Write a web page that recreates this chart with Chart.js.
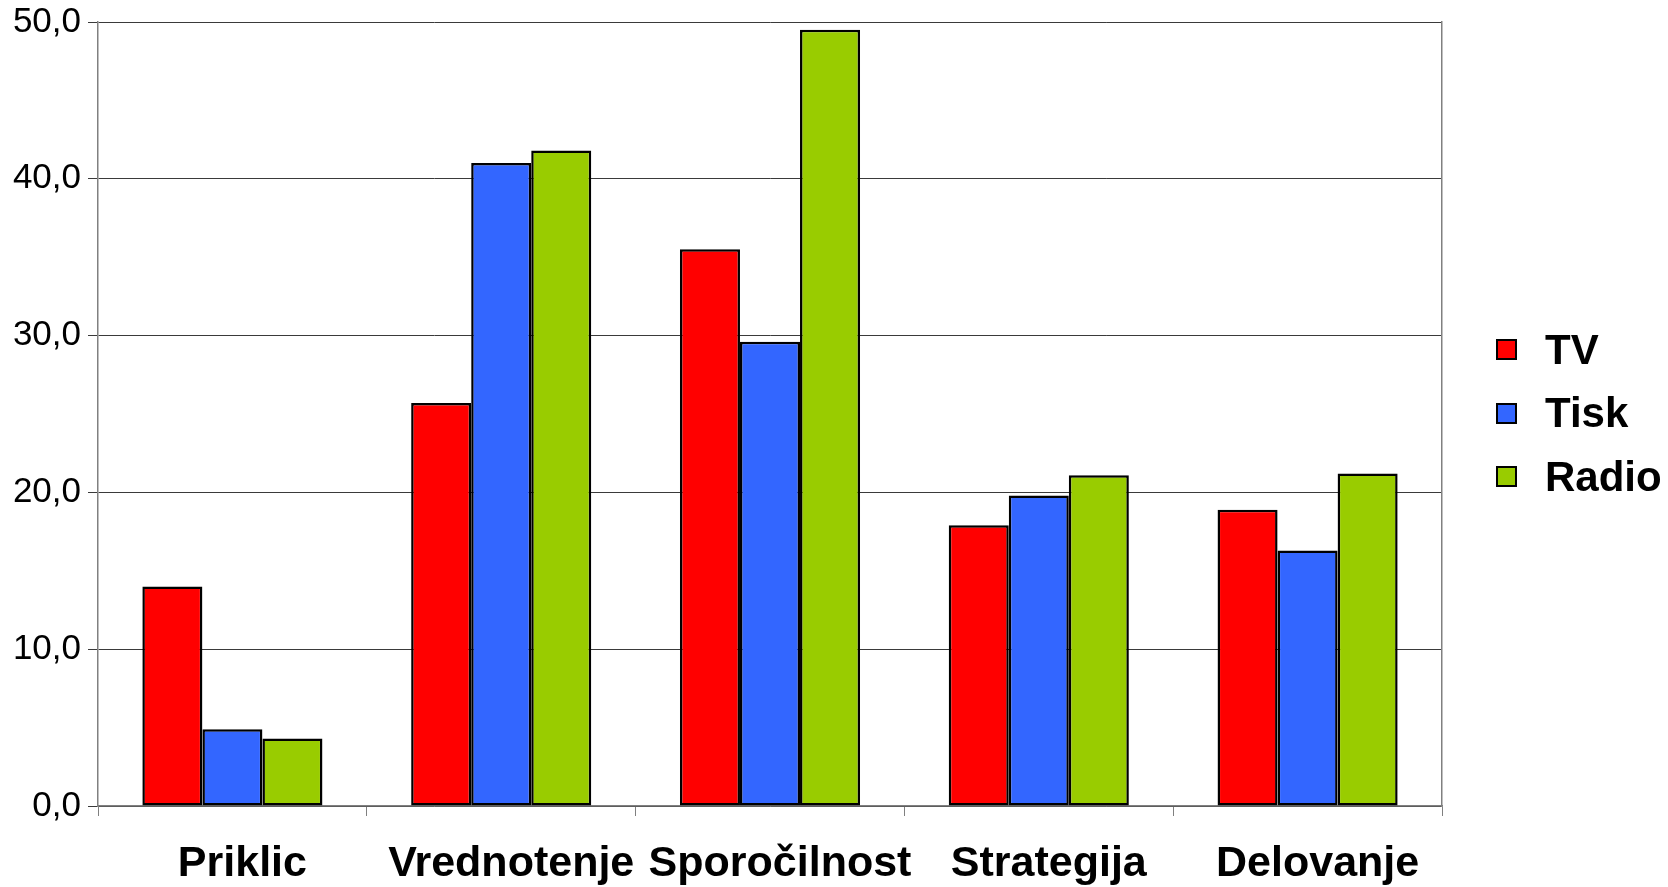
<!DOCTYPE html>
<html>
<head>
<meta charset="utf-8">
<script src="https://cdn.jsdelivr.net/npm/chart.js@4"></script>
<style>
  html, body { margin: 0; padding: 0; background: #fff; }
  #wrap { position: relative; width: 1668px; height: 887px; }
  #chart { position: absolute; left: 0; top: 0; }
  #legend { position: absolute; left: 1496px; top: 318px; font-family: "Liberation Sans", Arial, sans-serif; font-weight: bold; font-size: 42px; color: #000; }
  .item { display: flex; align-items: center; height: 63.5px; }
  .box { width: 17px; height: 17px; border: 2px solid #000; margin-right: 28px; }
</style>
</head>
<body>
<div id="wrap">
  <canvas id="chart" width="1668" height="887"></canvas>
  <div id="legend"></div>
</div>
<script>
// Categories and series values
const categories = ['Priklic', 'Vrednotenje', 'Sporočilnost', 'Strategija', 'Delovanje'];
const seriesNames = ['TV', 'Tisk', 'Radio'];
const tvValues = [14.0, 25.7, 35.5, 17.9, 18.9];
const tiskValues = [4.9, 41.0, 29.6, 19.8, 16.3];
const radioValues = [4.3, 41.8, 49.5, 21.1, 21.2];
const seriesColors = ['#ff0000', '#3366ff', '#99cc00'];
const yTickLabels = ['0,0', '10,0', '20,0', '30,0', '40,0', '50,0'];

const seriesValues = [tvValues, tiskValues, radioValues];

const datasets = seriesNames.map((name, i) => ({
  label: name,
  data: seriesValues[i],
  backgroundColor: seriesColors[i],
  borderColor: '#000',
  borderWidth: 2.5,
  borderSkipped: false,
  categoryPercentage: 0.67,
  barPercentage: 1.0
}));

new Chart(document.getElementById('chart'), {
  type: 'bar',
  data: { labels: categories, datasets },
  options: {
    responsive: false,
    animation: false,
    layout: { padding: { top: 22, right: 226, bottom: 0, left: 0 } },
    plugins: { legend: { display: false }, tooltip: { enabled: false } },
    scales: {
      x: {
        afterFit: (s) => { s.height = 81; s.paddingLeft = 0; s.paddingRight = 0; },
        grid: { drawOnChartArea: false, drawTicks: true, tickLength: 10, color: '#808080', offset: true },
        border: { display: true, color: '#808080', width: 1.5 },
        ticks: {
          padding: 22,
          labelOffset: 10,
          color: '#000',
          maxRotation: 0,
          autoSkip: false,
          font: { family: '"Liberation Sans", Arial, sans-serif', size: 43, weight: 'bold' }
        }
      },
      y: {
        min: 0,
        max: 50,
        afterFit: (s) => { s.width = 98; s.paddingTop = 0; s.paddingBottom = 0; },
        grid: { color: '#3a3a3a', lineWidth: 1, drawTicks: true, tickLength: 10 },
        border: { display: true, color: '#808080', width: 1.5 },
        ticks: {
          stepSize: 10,
          padding: 7,
          color: '#000',
          font: { family: '"Liberation Sans", Arial, sans-serif', size: 35 },
          callback: (v, i) => yTickLabels[i]
        }
      },
      yRight: {
        position: 'right',
        min: 0,
        max: 50,
        afterFit: (s) => { s.width = 0; s.paddingTop = 0; s.paddingBottom = 0; },
        grid: { display: false },
        ticks: { display: false },
        border: { display: true, color: '#808080', width: 1.5 }
      }
    }
  }
});

// Legend
const legend = document.getElementById('legend');
seriesNames.forEach((name, i) => {
  const item = document.createElement('div');
  item.className = 'item';
  const box = document.createElement('span');
  box.className = 'box';
  box.style.background = seriesColors[i];
  const txt = document.createElement('span');
  txt.textContent = name;
  item.appendChild(box);
  item.appendChild(txt);
  legend.appendChild(item);
});
</script>
</body>
</html>
